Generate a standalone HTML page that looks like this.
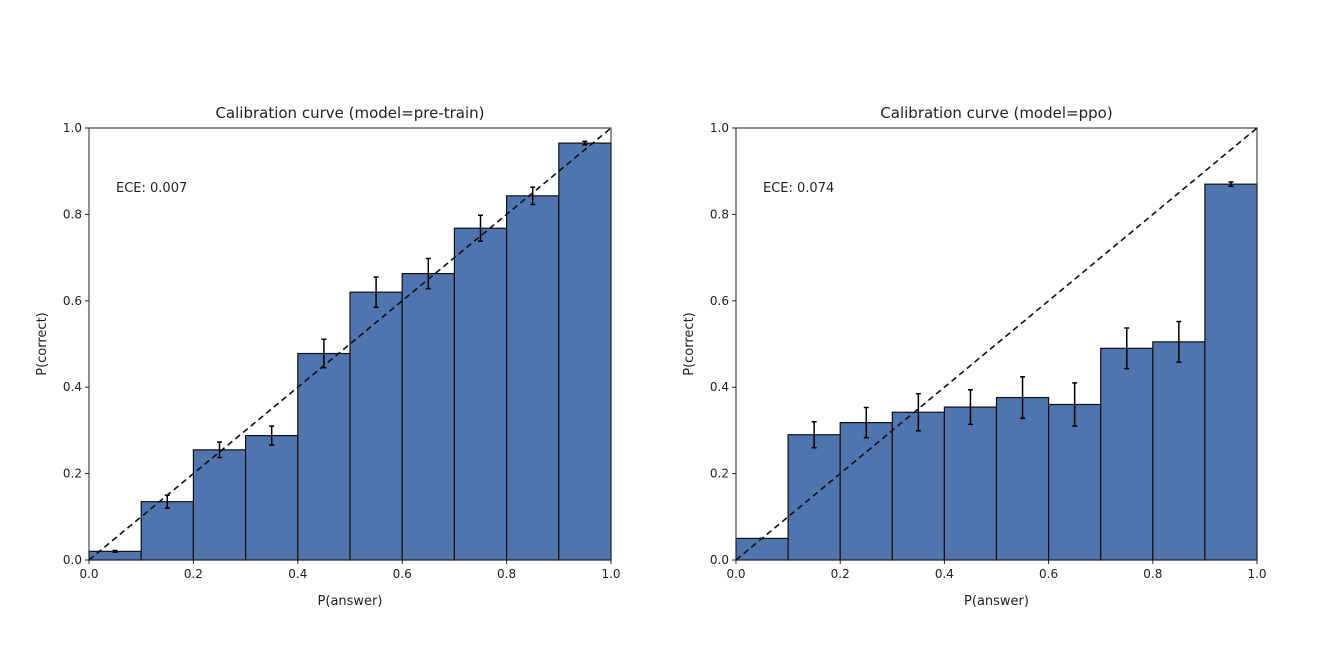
<!DOCTYPE html>
<html><head><meta charset="utf-8"><style>
body{margin:0;background:#fff;}
svg text{font-family:"DejaVu Sans","Liberation Sans",sans-serif;fill:#222;}
</style></head><body>
<svg id="c" width="1317" height="646" xmlns="http://www.w3.org/2000/svg"></svg>
<script>
const binStarts=[0,0.1,0.2,0.3,0.4,0.5,0.6,0.7,0.8,0.9];
const preValues=[0.02,0.135,0.255,0.288,0.478,0.62,0.663,0.768,0.843,0.965];
const preErrors=[0.002,0.015,0.018,0.022,0.033,0.035,0.035,0.03,0.02,0.004];
const ppoValues=[0.05,0.29,0.318,0.342,0.354,0.376,0.36,0.49,0.505,0.87];
const ppoErrors=[0,0.03,0.035,0.043,0.04,0.048,0.05,0.047,0.047,0.005];
const tickLabels=["0.0","0.2","0.4","0.6","0.8","1.0"];
const tickValues=[0,0.2,0.4,0.6,0.8,1.0];
const NS="http://www.w3.org/2000/svg";
const svg=document.getElementById('c');
function mk(tag,attrs,parent){const e=document.createElementNS(NS,tag);for(const k in attrs)e.setAttribute(k,attrs[k]);(parent||svg).appendChild(e);return e;}
function panel(x0,x1,title,ece,vals,errs,key){
  const y0=560,y1=128;
  const sx=v=>x0+v*(x1-x0), sy=v=>y0-v*(y0-y1);
  const g=mk('g',{});
  
  
  vals.forEach((v,i)=>{
    const r=mk('rect',{x:sx(binStarts[i]),y:sy(v),width:sx(binStarts[i]+0.1)-sx(binStarts[i]),height:sy(0)-sy(v),fill:'#4f74ae',stroke:'#111','stroke-width':1.2},g);
    
    
  });
  vals.forEach((v,i)=>{
    const cx=sx(binStarts[i]+0.05),e=errs[i];
    const eg=mk('g',{stroke:'#000','stroke-width':1.5},g);
    
    
    mk('line',{x1:cx,x2:cx,y1:sy(v-e),y2:sy(v+e)},eg);
    mk('line',{x1:cx-2.5,x2:cx+2.5,y1:sy(v-e),y2:sy(v-e)},eg);
    mk('line',{x1:cx-2.5,x2:cx+2.5,y1:sy(v+e),y2:sy(v+e)},eg);
  });
  const d=mk('line',{x1:sx(0),y1:sy(0),x2:sx(1),y2:sy(1),stroke:'#111','stroke-width':1.6,'stroke-dasharray':'6,4'},g);
  
  
  const fr=mk('rect',{x:x0,y:y1,width:x1-x0,height:y0-y1,fill:'none',stroke:'#222','stroke-width':1},g);
  
  
  tickValues.forEach((t,i)=>{
    mk('line',{x1:sx(t),x2:sx(t),y1:y0,y2:y0+4,stroke:'#222'},g);
    const tx=mk('text',{x:sx(t),y:y0+18,'text-anchor':'middle','font-size':12},g);tx.textContent=tickLabels[i];
    
    
    mk('line',{x1:x0-4,x2:x0,y1:sy(t),y2:sy(t),stroke:'#222'},g);
    const ty=mk('text',{x:x0-7,y:sy(t)+4,'text-anchor':'end','font-size':12},g);ty.textContent=tickLabels[i];
    
    
  });
  const t=mk('text',{x:(x0+x1)/2,y:118,'text-anchor':'middle','font-size':15},g);t.textContent=title;
  
  
  const xl=mk('text',{x:(x0+x1)/2,y:605,'text-anchor':'middle','font-size':13},g);xl.textContent='P(answer)';
  
  
  const yl=mk('text',{x:0,y:0,'text-anchor':'middle','font-size':13,transform:`translate(${x0-43},${(y0+y1)/2}) rotate(-90)`},g);yl.textContent='P(correct)';
  
  
  const ec=mk('text',{x:x0+27,y:192,'font-size':13},g);ec.textContent=ece;
  
  
}
panel(89,611,'Calibration curve (model=pre-train)','ECE: 0.007',preValues,preErrors,'pretrain');
panel(736,1257,'Calibration curve (model=ppo)','ECE: 0.074',ppoValues,ppoErrors,'ppo');
</script>
</body></html>
